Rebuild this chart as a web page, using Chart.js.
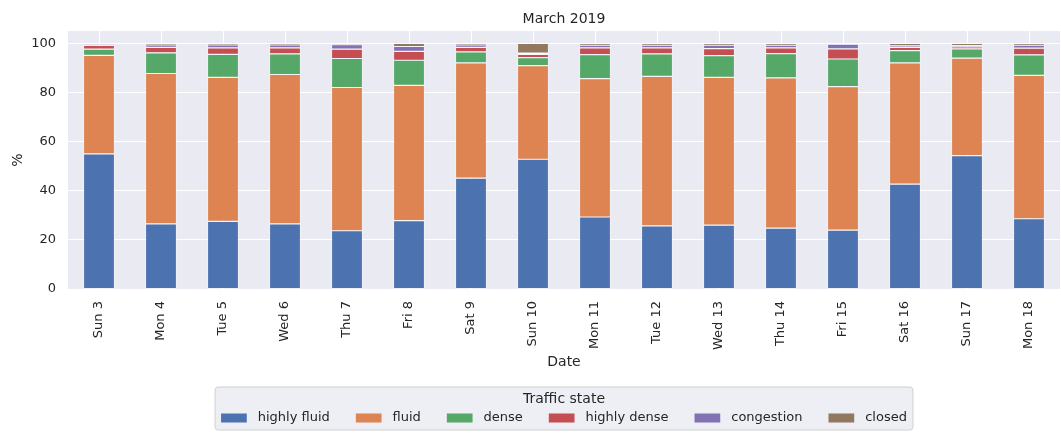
<!DOCTYPE html>
<html>
<head>
<meta charset="utf-8">
<script src="https://cdn.jsdelivr.net/npm/chart.js@4"></script>
<style>
  body { margin: 0; background: #fff; }
</style>
</head>
<body>
<canvas id="chart" width="1061" height="434"></canvas>
<script>
// data, % of time per traffic state
const dates = ['Sun 3', 'Mon 4', 'Tue 5', 'Wed 6', 'Thu 7', 'Fri 8', 'Sat 9', 'Sun 10',
  'Mon 11', 'Tue 12', 'Wed 13', 'Thu 14', 'Fri 15', 'Sat 16', 'Sun 17', 'Mon 18'];
const highlyFluid = [55.0, 26.5, 27.5, 26.5, 23.7, 27.8, 45.1, 52.8, 29.3, 25.7, 26.0, 24.8, 24.0, 42.7, 54.3, 28.6];
const fluid       = [40.1, 61.2, 58.6, 60.8, 58.3, 55.1, 46.9, 38.1, 56.3, 60.8, 60.1, 61.1, 58.4, 49.3, 39.7, 58.3];
const dense       = [2.5, 8.4, 9.4, 8.4, 11.8, 10.2, 4.5, 3.3, 9.8, 9.2, 8.9, 9.9, 11.2, 5.0, 3.7, 8.4];
const highlyDense = [1.5, 2.2, 2.6, 2.4, 3.8, 3.6, 1.8, 1.3, 2.7, 2.4, 2.8, 2.3, 4.1, 1.3, 0.8, 2.7];
const congestion  = [0.5, 1.0, 1.2, 1.2, 1.8, 2.0, 1.0, 0.5, 1.1, 1.1, 1.4, 1.1, 1.9, 0.7, 0.6, 1.2];
const closed      = [0.4, 0.7, 0.7, 0.7, 0.6, 1.3, 0.7, 4.0, 0.8, 0.8, 0.8, 0.8, 0.4, 1.0, 0.9, 0.8];
const yTicks = [0, 20, 40, 60, 80, 100];

const names = ['highly fluid', 'fluid', 'dense', 'highly dense', 'congestion', 'closed'];
const colors = ['#4c72b0', '#dd8452', '#55a868', '#c44e52', '#8172b3', '#937860'];
const series = [highlyFluid, fluid, dense, highlyDense, congestion, closed];

const textColor = '#262626';
const fontFamily = '"DejaVu Sans", sans-serif';
const tickSize = 13;
const labelSize = 14;

// matplotlib-like legend box drawn under the axes
const legendBox = {
  id: 'legendBox',
  afterDraw(chart) {
    const ctx = chart.ctx;
    const area = chart.chartArea;
    const handleW = 25.7, handleH = 9, gap = 11, colGap = 26, pad = 6;
    ctx.save();
    ctx.font = tickSize + 'px ' + fontFamily;
    const widths = names.map(n => ctx.measureText(n).width);
    let total = pad * 2 + colGap * (names.length - 1);
    widths.forEach(w => { total += handleW + gap + w; });
    const cx = (area.left + area.right) / 2;
    const left = cx - total / 2;
    const top = 387, height = 43;

    ctx.beginPath();
    ctx.roundRect(left, top, total, height, 3);
    ctx.fillStyle = 'rgba(234,234,242,0.8)';
    ctx.fill();
    ctx.strokeStyle = '#d0d0d0';
    ctx.lineWidth = 1;
    ctx.stroke();

    ctx.fillStyle = textColor;
    ctx.textBaseline = 'middle';
    ctx.textAlign = 'center';
    ctx.font = labelSize + 'px ' + fontFamily;
    ctx.fillText('Traffic state', cx, top + 12);

    ctx.font = tickSize + 'px ' + fontFamily;
    ctx.textAlign = 'left';
    let x = left + pad;
    const rowY = top + 31;
    names.forEach((n, i) => {
      ctx.fillStyle = colors[i];
      ctx.fillRect(x, rowY - handleH / 2, handleW, handleH);
      x += handleW + gap;
      ctx.fillStyle = textColor;
      ctx.fillText(n, x, rowY);
      x += widths[i] + colGap;
    });
    ctx.restore();
  }
};

const bg = {
  id: 'bg',
  beforeDraw(chart) {
    const a = chart.chartArea;
    chart.ctx.save();
    chart.ctx.fillStyle = '#eaeaf2';
    chart.ctx.fillRect(a.left, a.top, a.right - a.left, a.bottom - a.top);
    chart.ctx.restore();
  }
};

new Chart(document.getElementById('chart'), {
  type: 'bar',
  data: {
    labels: dates,
    datasets: series.map((d, i) => ({
      label: names[i],
      data: d,
      backgroundColor: colors[i],
      borderColor: '#ffffff',
      borderWidth: 0.6,
      borderSkipped: false,
      barPercentage: 0.5,
      categoryPercentage: 1.0
    }))
  },
  options: {
    responsive: false,
    animation: false,
    layout: { padding: { left: 0, right: 1, top: 0, bottom: 54 } },
    plugins: {
      legend: { display: false },
      tooltip: { enabled: false },
      title: {
        display: true,
        fullSize: false,
        text: 'March 2019',
        color: textColor,
        font: { family: fontFamily, size: labelSize, weight: 'normal' },
        padding: { top: 10.5, bottom: 3.7 }
      }
    },
    scales: {
      x: {
        stacked: true,
        grid: { color: '#ffffff', lineWidth: 1, offset: false, drawTicks: false },
        border: { display: false },
        ticks: {
          color: textColor,
          font: { family: fontFamily, size: tickSize },
          minRotation: 90,
          maxRotation: 90,
          padding: 12,
          autoSkip: false
        },
        title: {
          display: true,
          text: 'Date',
          color: textColor,
          font: { family: fontFamily, size: labelSize },
          padding: { top: 0, bottom: 9.5 }
        },
        afterFit(scale) { scale.height = 91; }
      },
      y: {
        stacked: true,
        min: 0,
        max: 105,
        grid: { color: '#ffffff', lineWidth: 1, drawTicks: false },
        border: { display: false },
        ticks: {
          color: textColor,
          font: { family: fontFamily, size: tickSize },
          padding: 12
        },
        afterBuildTicks(scale) {
          scale.ticks = yTicks.map(v => ({ value: v }));
        },
        title: {
          display: true,
          text: '%',
          color: textColor,
          font: { family: fontFamily, size: labelSize },
          padding: { top: 10, bottom: 0 }
        },
        afterFit(scale) { scale.width = 68; }
      }
    }
  },
  plugins: [bg, legendBox]
});
</script>
</body>
</html>
